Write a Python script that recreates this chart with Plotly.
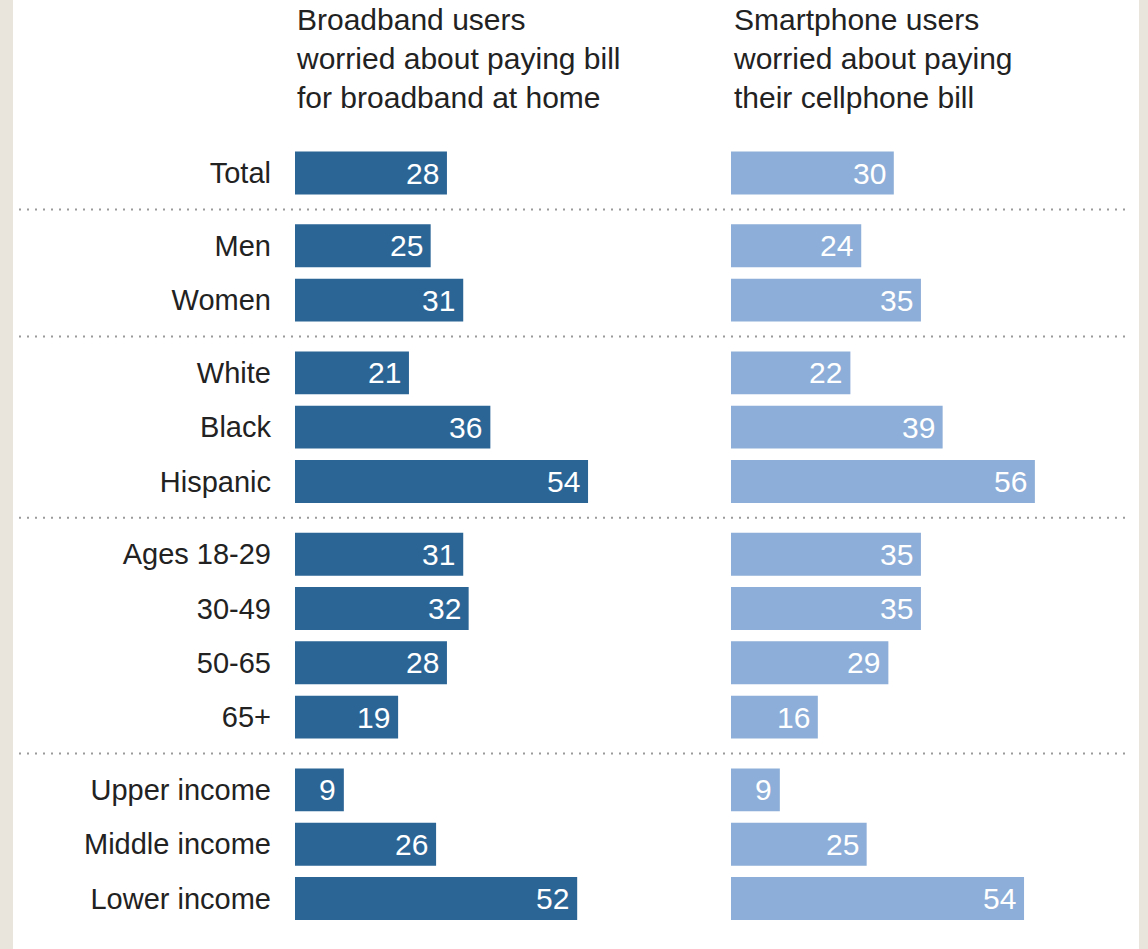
import plotly.graph_objects as go

# ---- data ----
categories = ["Total", "Men", "Women", "White", "Black", "Hispanic",
              "Ages 18-29", "30-49", "50-65", "65+",
              "Upper income", "Middle income", "Lower income"]
groups = [0, 1, 1, 2, 2, 2, 3, 3, 3, 3, 4, 4, 4]
broadband = [28, 25, 31, 21, 36, 54, 31, 32, 28, 19, 9, 26, 52]
smartphone = [30, 24, 35, 22, 39, 56, 35, 35, 29, 16, 9, 25, 54]
header_left = "Broadband users<br>worried about paying bill<br>for broadband at home"
header_right = "Smartphone users<br>worried about paying<br>their cellphone bill"

# ---- styling ----
DARK = "#2b6596"
LIGHT = "#8daed8"
FONT = "Liberation Sans, Arial, sans-serif"
W, H = 1148, 949
GAP = 0.34

# row positions (row pitch 1, extra gap between groups)
pos = []
for i, g in enumerate(groups):
    pos.append(i + g * GAP)

fig = go.Figure()
fig.add_trace(go.Bar(y=pos, x=broadband, orientation="h", marker=dict(color=DARK, line=dict(width=0)),
                     width=0.79, xaxis="x", yaxis="y", hoverinfo="skip"))
fig.add_trace(go.Bar(y=pos, x=smartphone, orientation="h", marker=dict(color=LIGHT, line=dict(width=0)),
                     width=0.79, xaxis="x2", yaxis="y", hoverinfo="skip"))

annotations = []
for p, v in zip(pos, broadband):
    annotations.append(dict(x=v, y=p, xref="x", yref="y", text=str(v), showarrow=False,
                            xanchor="right", yanchor="middle", xshift=-6,
                            font=dict(family=FONT, size=30, color="white")))
for p, v in zip(pos, smartphone):
    annotations.append(dict(x=v, y=p, xref="x2", yref="y", text=str(v), showarrow=False,
                            xanchor="right", yanchor="middle", xshift=-6,
                            font=dict(family=FONT, size=30, color="white")))

annotations.append(dict(x=294 / W, y=1 - 58 / H, xref="paper", yref="paper", text=header_left,
                        showarrow=False, xanchor="left", yanchor="middle", align="left",
                        font=dict(family=FONT, size=30, color="#222222")))
annotations.append(dict(x=731 / W, y=1 - 58 / H, xref="paper", yref="paper", text=header_right,
                        showarrow=False, xanchor="left", yanchor="middle", align="left",
                        font=dict(family=FONT, size=30, color="#222222")))

shapes = [dict(type="rect", xref="paper", yref="paper", x0=13 / W, x1=1139 / W, y0=0, y1=1,
               fillcolor="white", line=dict(width=0), layer="below")]
# dotted separators between groups
for i in range(1, len(groups)):
    if groups[i] != groups[i - 1]:
        ysep = (pos[i] + pos[i - 1]) / 2
        shapes.append(dict(type="line", xref="paper", yref="y", x0=19 / W, x1=1125 / W,
                           y0=ysep, y1=ysep, line=dict(color="#9a9a9a", width=2, dash="2px,6px")))

fig.update_layout(
    width=W, height=H, autosize=False,
    margin=dict(l=0, r=0, t=0, b=0),
    paper_bgcolor="#e9e5dc", plot_bgcolor="rgba(0,0,0,0)",
    showlegend=False, barmode="overlay",
    xaxis=dict(domain=[295 / W, 702 / W], range=[0, 75], visible=False, fixedrange=True),
    xaxis2=dict(domain=[731 / W, 1138 / W], range=[0, 75], visible=False, fixedrange=True, anchor="y"),
    yaxis=dict(domain=[0, 1], range=[14.29, -3.186], tickvals=pos, ticktext=categories,
               showgrid=False, zeroline=False, showline=False, ticks="",
               ticklabelstandoff=23,
               tickfont=dict(family=FONT, size=29, color="#222222"), fixedrange=True),
    annotations=annotations,
    shapes=shapes,
)

fig.write_html("out.html")
